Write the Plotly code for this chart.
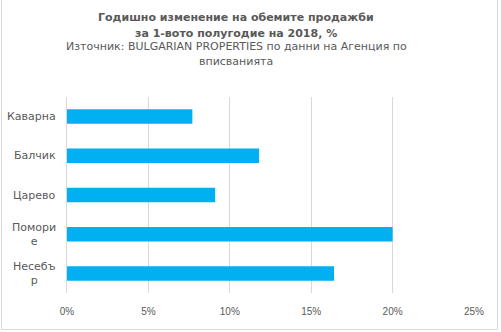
import plotly.graph_objects as go

# Annual change in sales volume, H1 2018 (%)
towns = ["Каварна", "Балчик", "Царево", "Поморие", "Несебър"]
town_labels = ["Каварна", "Балчик", "Царево", "Помори<br>е", "Несебъ<br>р"]
change_pct = [7.7, 11.8, 9.1, 20.0, 16.4]
x_ticks = [0, 5, 10, 15, 20, 25]
x_tick_text = ["0%", "5%", "10%", "15%", "20%", "25%"]

W, H = 501, 332
ML, MR, MT, MB = 67, 27, 97, 39
PW, PH = W - ML - MR, H - MT - MB
TEXT = "#595959"
GRID = "#D9D9D9"
FONT = "DejaVu Sans"


def px_x(x):
    """Page pixel column -> paper x."""
    return (x - ML) / PW


def px_y(y):
    """Page pixel row -> paper y."""
    return (H - MB - y) / PH


fig = go.Figure(
    go.Bar(
        x=change_pct,
        y=towns,
        orientation="h",
        marker=dict(color="#00B0F0", line=dict(width=0)),
        width=0.37,
        hoverinfo="x+y",
    )
)

fig.update_layout(
    width=W,
    height=H,
    margin=dict(l=ML, r=MR, t=MT, b=MB, autoexpand=False),
    paper_bgcolor="white",
    plot_bgcolor="white",
    showlegend=False,
    xaxis=dict(
        range=[0, 25],
        tickvals=x_ticks,
        ticktext=x_tick_text,
        showgrid=True,
        gridcolor=GRID,
        gridwidth=1,
        zeroline=False,
        showline=False,
        ticks="outside",
        ticklen=9,
        tickcolor="rgba(0,0,0,0)",
        tickfont=dict(family="Liberation Sans", size=10, color=TEXT),
    ),
    yaxis=dict(
        categoryorder="array",
        categoryarray=towns,
        autorange="reversed",
        showticklabels=False,
        showgrid=False,
        zeroline=False,
        showline=True,
        linecolor=GRID,
        linewidth=1,
        ticks="",
    ),
)

# Category labels, centred line-by-line like wrapped chart labels
for town, label in zip(towns, town_labels):
    fig.add_annotation(
        x=0, xref="paper", y=town, yref="y",
        text=label, showarrow=False,
        xanchor="right", yanchor="middle", align="center",
        xshift=-9,
        font=dict(family=FONT, size=11, color=TEXT),
    )

# Title block
title_lines = [
    ("<b>Годишно изменение на обемите продажби</b>", 17),
    ("<b>за 1-вото полугодие на 2018, %</b>", 33),
    ("Източник: BULGARIAN PROPERTIES по данни на Агенция по", 46),
    ("вписванията", 61),
]
for text, ypx in title_lines:
    fig.add_annotation(
        x=px_x(236), xref="paper", y=px_y(ypx), yref="paper",
        yanchor="middle", xanchor="center",
        text=text, showarrow=False,
        font=dict(family=FONT, size=11, color=TEXT),
    )

# Chart frame
fig.add_shape(
    type="rect", xref="paper", yref="paper",
    x0=px_x(1.5), x1=px_x(497.5), y0=px_y(329.5), y1=px_y(-2),
    line=dict(color="#D9D9D9", width=1), layer="below",
)

fig.write_html("out.html")
